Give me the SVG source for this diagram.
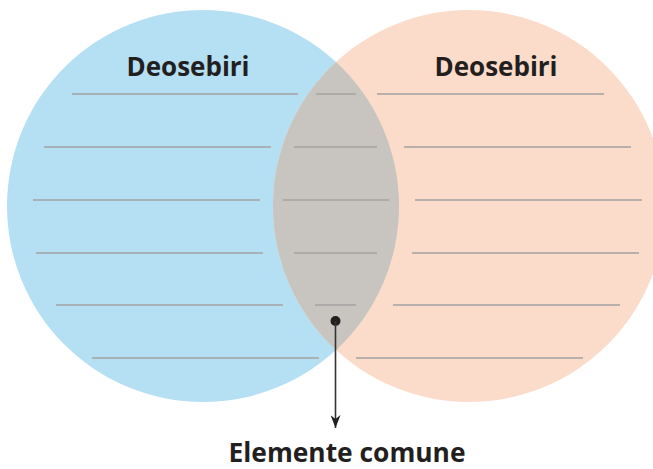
<svg xmlns="http://www.w3.org/2000/svg" width="653" height="469" viewBox="0 0 653 469">
<style>
.ln{stroke:#a3a3a3;stroke-width:1.6;fill:none}
.t{font-family:"Open Sans","Liberation Sans",sans-serif;font-weight:bold;font-size:26px;fill:#231f20;text-anchor:middle}
</style>
<defs>
<marker id="ah" markerWidth="13" markerHeight="10" refX="13" refY="5" orient="auto" markerUnits="userSpaceOnUse" viewBox="0 0 13 10">
<path d="M0,0 L4,5 L0,10 L13,5 Z" fill="#231f20"/>
</marker>
</defs>
<rect width="653" height="469" fill="#fff"/>
<g id="left">
<circle cx="203" cy="206" r="196" fill="#b5dff3"/>
<text class="t" x="188" y="76">Deosebiri</text>
</g>
<g id="right">
<circle cx="469" cy="206" r="196" fill="#fbdbc9"/>
<text class="t" x="496" y="76">Deosebiri</text>
</g>
<g id="common">
<path d="M336,62 A196,196 0 0 1 336,350 A196,196 0 0 1 336,62 Z" fill="#c8c4bf"/>
</g>
<g id="lines">
<path class="ln" d="M72,94H298M316,94H356M377,94H604"/>
<path class="ln" d="M44,147H271M294,147H377M404,147H631"/>
<path class="ln" d="M33,200H260M283,200H389M415,200H642"/>
<path class="ln" d="M36,253H263M294,253H377M412,253H639"/>
<path class="ln" d="M56,305H283M315,305H356M393,305H620"/>
<path class="ln" d="M92,358H319M356,358H583"/>
</g>
<g id="connectors">
<circle cx="335.5" cy="321" r="5" fill="#231f20"/>
<line x1="335.5" y1="321" x2="335.5" y2="428" stroke="#333" stroke-width="1.6" marker-end="url(#ah)"/>
</g>
<g id="label">
<text class="t" x="347" y="462" textLength="237" lengthAdjust="spacingAndGlyphs">Elemente comune</text>
</g>
</svg>
